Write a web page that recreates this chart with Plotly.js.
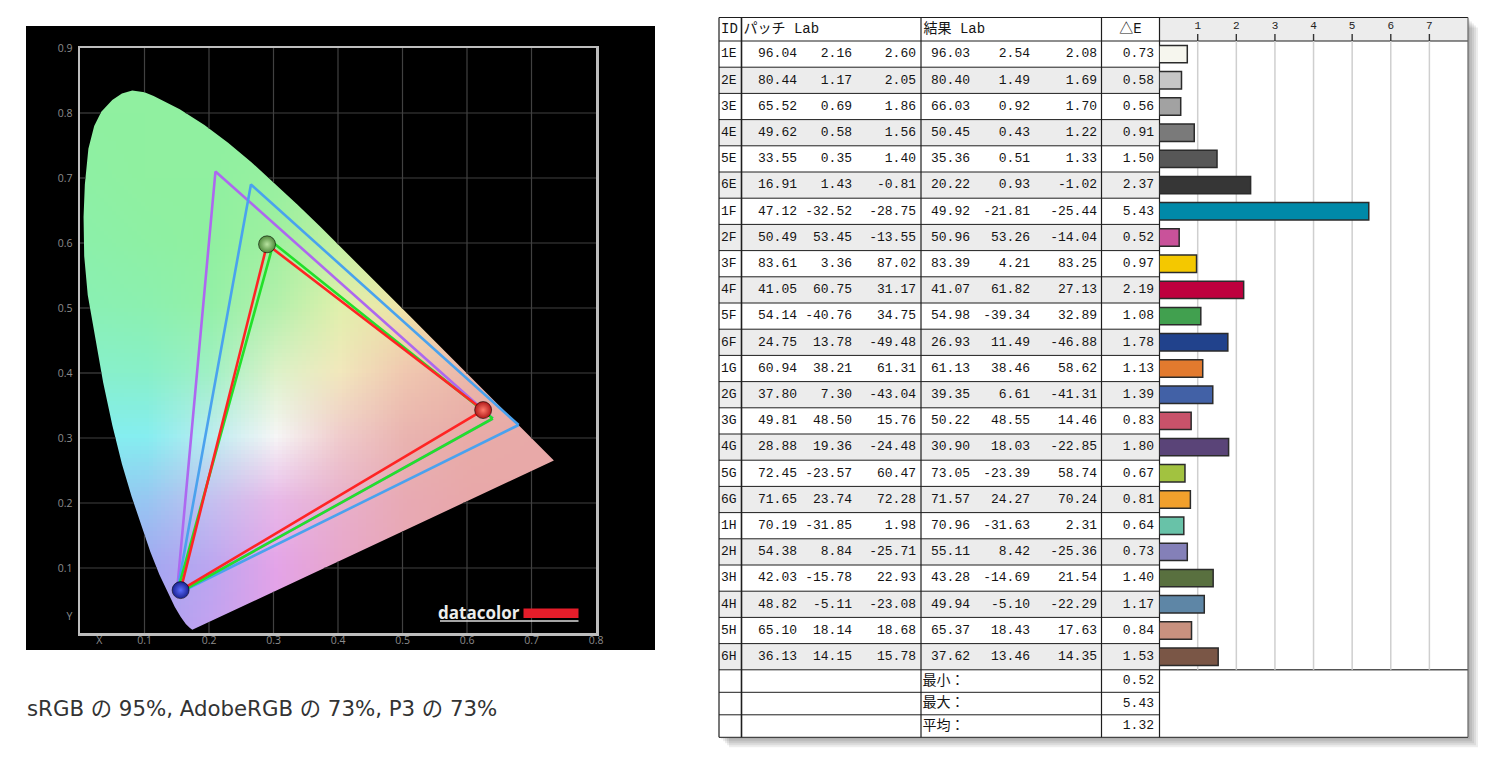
<!DOCTYPE html>
<html>
<head>
<meta charset="utf-8">
<title>色域と ΔE</title>
<script src="https://cdn.plot.ly/plotly-3.0.1.min.js"></script>
<style>
  html, body { margin: 0; padding: 0; background: #fff; }
  #chart { width: 1490px; height: 761px; }
</style>
</head>
<body>
<div id="chart"></div>
<script>
// ---------- chromaticity diagram ----------
// spectral locus: violet end, up the left side, over the top, down to the red end
const locusX = [0.1741, 0.1700, 0.1640, 0.1560, 0.1470, 0.1360, 0.1230, 0.1090, 0.0950, 0.0800,
                0.0650, 0.0500, 0.0360, 0.0230, 0.0120, 0.0065, 0.0055, 0.0075, 0.0130, 0.0220,
                0.0330, 0.0500, 0.0650, 0.0810, 0.1000, 0.1142, 0.1547, 0.1929, 0.2296, 0.2658,
                0.3016, 0.3373, 0.3731, 0.4087, 0.4441, 0.4788, 0.5125, 0.5448, 0.5752, 0.6029,
                0.6270, 0.6482, 0.6658, 0.6915, 0.7079, 0.7190, 0.7347];
const locusY = [0.0050, 0.0080, 0.0140, 0.0250, 0.0400, 0.0620, 0.0900, 0.1250, 0.1650, 0.2100,
                0.2600, 0.3200, 0.3850, 0.4550, 0.5200, 0.5800, 0.6400, 0.6900, 0.7450, 0.7800,
                0.8020, 0.8200, 0.8300, 0.8345, 0.8320, 0.8262, 0.8059, 0.7816, 0.7543, 0.7243,
                0.6923, 0.6589, 0.6245, 0.5896, 0.5547, 0.5202, 0.4866, 0.4544, 0.4242, 0.3965,
                0.3725, 0.3514, 0.3340, 0.3083, 0.2920, 0.2809, 0.2653];

// primaries R, G, B
const adobeX = [0.64, 0.21, 0.15],   adobeY = [0.33, 0.71, 0.06];
const p3X    = [0.68, 0.265, 0.15],  p3Y    = [0.32, 0.69, 0.06];
const srgbX  = [0.64, 0.30, 0.15],   srgbY  = [0.33, 0.60, 0.06];
const panelX = [0.625, 0.290, 0.156], panelY = [0.343, 0.598, 0.066];

const xTickVals = [0.03, 0.1, 0.2, 0.3, 0.4, 0.5, 0.6, 0.7, 0.8];
const xTickText = ['X', '0.1', '0.2', '0.3', '0.4', '0.5', '0.6', '0.7', '0.8'];
const yTickVals = [0.025, 0.1, 0.2, 0.3, 0.4, 0.5, 0.6, 0.7, 0.8, 0.9];
const yTickText = ['Y', '0.1', '0.2', '0.3', '0.4', '0.5', '0.6', '0.7', '0.8', '0.9'];
const gridXs = [0.1, 0.2, 0.3, 0.4, 0.5, 0.6, 0.7];
const gridYs = [0.1, 0.2, 0.3, 0.4, 0.5, 0.6, 0.7, 0.8];

const coverage = 'sRGB の 95%, AdobeRGB の 73%, P3 の 73%';

// ---------- ΔE table ----------
const patchIds = ['1E','2E','3E','4E','5E','6E','1F','2F','3F','4F','5F','6F',
                  '1G','2G','3G','4G','5G','6G','1H','2H','3H','4H','5H','6H'];
const patchL = [96.04, 80.44, 65.52, 49.62, 33.55, 16.91, 47.12, 50.49, 83.61, 41.05, 54.14, 24.75,
                60.94, 37.80, 49.81, 28.88, 72.45, 71.65, 70.19, 54.38, 42.03, 48.82, 65.10, 36.13];
const patchA = [2.16, 1.17, 0.69, 0.58, 0.35, 1.43, -32.52, 53.45, 3.36, 60.75, -40.76, 13.78,
                38.21, 7.30, 48.50, 19.36, -23.57, 23.74, -31.85, 8.84, -15.78, -5.11, 18.14, 14.15];
const patchB = [2.60, 2.05, 1.86, 1.56, 1.40, -0.81, -28.75, -13.55, 87.02, 31.17, 34.75, -49.48,
                61.31, -43.04, 15.76, -24.48, 60.47, 72.28, 1.98, -25.71, 22.93, -23.08, 18.68, 15.78];
const resultL = [96.03, 80.40, 66.03, 50.45, 35.36, 20.22, 49.92, 50.96, 83.39, 41.07, 54.98, 26.93,
                 61.13, 39.35, 50.22, 30.90, 73.05, 71.57, 70.96, 55.11, 43.28, 49.94, 65.37, 37.62];
const resultA = [2.54, 1.49, 0.92, 0.43, 0.51, 0.93, -21.81, 53.26, 4.21, 61.82, -39.34, 11.49,
                 38.46, 6.61, 48.55, 18.03, -23.39, 24.27, -31.63, 8.42, -14.69, -5.10, 18.43, 13.46];
const resultB = [2.08, 1.69, 1.70, 1.22, 1.33, -1.02, -25.44, -14.04, 83.25, 27.13, 32.89, -46.88,
                 58.62, -41.31, 14.46, -22.85, 58.74, 70.24, 2.31, -25.36, 21.54, -22.29, 17.63, 14.35];
const deltaE = [0.73, 0.58, 0.56, 0.91, 1.50, 2.37, 5.43, 0.52, 0.97, 2.19, 1.08, 1.78,
                1.13, 1.39, 0.83, 1.80, 0.67, 0.81, 0.64, 0.73, 1.40, 1.17, 0.84, 1.53];
const summaryLabels = ['最小：', '最大：', '平均：'];
const summaryValues = [0.52, 5.43, 1.32];
const headerTexts = ['ID', 'パッチ Lab', '結果 Lab', '△E'];
const scaleTicks = [1, 2, 3, 4, 5, 6, 7];

// ---------- styles ----------
const barColours = ['#f6f6ee','#c6c6c6','#a2a2a2','#7a7a7a','#575757','#363636',
                    '#0089a8','#c9529a','#f4c800','#be003e','#41a04f','#21428c',
                    '#e27a2e','#4261a6','#c8526a','#5a4478','#a2c240','#f2a02c',
                    '#68c2a8','#8480b8','#59703f','#5e86a6','#c8917f','#7a5646'];
// colour field behind the locus, rows from y=0.9 down to y=0, columns x=0..0.8
const G = '#90f0a0';
const fieldColours = [
  [G, G, G, G, G, G, G, G, G],
  [G, G, G, G, G, G, G, G, G],
  ['#8ef0a4', G, G, '#98f0a0', '#a8f0a0', '#b8f0a0', '#c8f0a0', '#d0f0a0', '#d0f0a0'],
  ['#8cf0aa', '#8ef0a4', G, '#a0f0a0', '#c4f0a4', '#def0a4', '#e8eca4', '#eae8a4', '#eae8a4'],
  ['#8af0b4', '#8cf0b0', '#94f0a8', '#b4f0ac', '#e0f0ac', '#f0e4a8', '#f0d4a8', '#eccca8', '#eccca8'],
  ['#88f0cc', '#88f0c8', '#a0f0c4', '#dcf2c8', '#f2e8bc', '#f0c8b0', '#ecb8aa', '#e8b0a8', '#e8b0a8'],
  ['#84eef0', '#86eef0', '#bcecf0', '#f6f6f6', '#f0cccc', '#eab4b0', '#e8aca8', '#e8aaa8', '#e8aaa8'],
  ['#8ccef2', '#98c6f2', '#c4c0f0', '#e8b8e8', '#e8b0cc', '#e8aab4', '#e8a8aa', '#e8a8a8', '#e8a8a8'],
  ['#9eaaf2', '#a2a8f2', '#bca6f0', '#e4a4e8', '#e8a6cc', '#e8a8b6', '#e8a8ac', '#e8a8a8', '#e8a8a8'],
  ['#a8a2f0', '#a8a2f0', '#c4a2f0', '#e2a2e8', '#e8a4d0', '#e8a6bc', '#e8a8b0', '#e8a8a8', '#e8a8a8']
];

const W = 1490, H = 761;
const px = v => v / W;          // page x pixel -> paper
const py = v => 1 - v / H;      // page y pixel -> paper
// table geometry, page pixels
const T = { left: 719, right: 1468, top: 17.5, head: 41, rowH: 26.2, sumH: 22.5,
            cols: [741.5, 921, 1101.5, 1159.5] };
const dataBottom = T.head + patchIds.length * T.rowH;
const tableBottom = dataBottom + summaryLabels.length * T.sumH;
const rowMid = patchIds.map((_, i) => T.head + T.rowH * (i + 0.5));
const sumMid = summaryLabels.map((_, j) => dataBottom + T.sumH * (j + 0.5));
const headMid = (T.top + T.head) / 2;

const tableFont = { family: 'Liberation Mono, "Noto Sans CJK JP", monospace', size: 13, color: '#141414' };
const labelFont = { family: 'Liberation Mono, "Noto Sans CJK JP", monospace', size: 14, color: '#141414' };
const fmt = v => v.toFixed(2);

// ---------- chart helpers ----------
function closed(a) { return a.concat([a[0]]); }

// tiny bitmap of the colour field; plotly's image trace scales it smoothly
function fieldSource() {
  const cv = document.createElement('canvas');
  const rows = fieldColours.length;
  cv.width = fieldColours[0].length;
  cv.height = rows;
  const c = cv.getContext('2d');
  fieldColours.forEach((row, r) => row.forEach((col, k) => {
    c.fillStyle = col; c.fillRect(k, rows - 1 - r, 1, 1);   // plotly flips source rows here
  }));
  return cv.toDataURL('image/png');
}

// parts of segment a->b lying outside the locus
function outside(ax, ay, bx, by) {
  const ts = [];
  const n = locusX.length;
  for (let i = 0; i < n; i++) {
    const j = (i + 1) % n;
    const cx = locusX[i], cy = locusY[i], dx = locusX[j], dy = locusY[j];
    const den = (bx - ax) * (dy - cy) - (by - ay) * (dx - cx);
    if (Math.abs(den) < 1e-12) continue;
    const t = ((cx - ax) * (dy - cy) - (cy - ay) * (dx - cx)) / den;
    const u = ((cx - ax) * (by - ay) - (cy - ay) * (bx - ax)) / den;
    if (u >= 0 && u <= 1) ts.push(t);
  }
  if (ts.length < 2) return [[ax, ay, bx, by]];
  const t0 = Math.max(0, Math.min(...ts)), t1 = Math.min(1, Math.max(...ts));
  const out = [];
  if (t0 > 0) out.push([ax, ay, ax + t0 * (bx - ax), ay + t0 * (by - ay)]);
  if (t1 < 1) out.push([ax + t1 * (bx - ax), ay + t1 * (by - ay), bx, by]);
  return out;
}

const xr = [0, 0.8], yr = [0, 0.9];
const gx = [], gy = [];
gridXs.forEach(v => outside(v, yr[0], v, yr[1]).forEach(s => { gx.push(s[0], s[2], null); gy.push(s[1], s[3], null); }));
gridYs.forEach(v => outside(xr[0], v, xr[1], v).forEach(s => { gx.push(s[0], s[2], null); gy.push(s[1], s[3], null); }));

function gamut(xs, ys, colour) {
  return { type: 'scatter', mode: 'lines', x: closed(xs), y: closed(ys),
           line: { color: colour, width: 2.6 }, hoverinfo: 'skip' };
}

const traces = [
  { type: 'image', source: fieldSource(), x0: 0, dx: 0.1, y0: 0.9, dy: -0.1,
    zsmooth: 'fast', hoverinfo: 'skip' },
  // black mask: frame with the locus cut out
  { type: 'scatter', mode: 'lines', fill: 'toself', fillcolor: '#000', line: { width: 0 },
    x: [xr[0], xr[1], xr[1], xr[0], xr[0], null].concat(closed(locusX)),
    y: [yr[0], yr[0], yr[1], yr[1], yr[0], null].concat(closed(locusY)),
    hoverinfo: 'skip' },
  { type: 'scatter', mode: 'lines', x: gx, y: gy, line: { color: '#414141', width: 1.2 }, hoverinfo: 'skip' },
  gamut(adobeX, adobeY, '#ad68f0'),
  gamut(p3X, p3Y, '#4aa2ee'),
  gamut(srgbX, srgbY, '#22e02a'),
  gamut(panelX, panelY, '#ff2424'),
  { type: 'scatter', mode: 'markers', x: panelX, y: panelY, hoverinfo: 'skip',
    marker: { size: 17, color: ['#b01818', '#4f8a3a', '#1a2290'],
              gradient: { type: 'radial', color: ['#ff7a6a', '#b8e4a0', '#5a6cff'] },
              line: { color: 'rgba(0,0,0,0.55)', width: 1 } } },

  // ---- table text ----
  { type: 'scatter', mode: 'text', xaxis: 'x2', yaxis: 'y2', hoverinfo: 'skip',
    x: [721, 743.5, 923.5, 1130.5], y: headerTexts.map(() => headMid), text: headerTexts,
    textposition: ['middle right', 'middle right', 'middle right', 'middle center'],
    textfont: labelFont, marker: { size: 1 } },
  { type: 'scatter', mode: 'text', xaxis: 'x2', yaxis: 'y2', hoverinfo: 'skip',
    x: patchIds.map(() => 721), y: rowMid, text: patchIds, textposition: 'middle right',
    textfont: tableFont, marker: { size: 1 } }
];

const numberCols = [[patchL, 797], [patchA, 852], [patchB, 916],
                    [resultL, 970], [resultA, 1030], [resultB, 1097], [deltaE, 1154]];
numberCols.forEach(([vals, right]) => traces.push({
  type: 'scatter', mode: 'text', xaxis: 'x2', yaxis: 'y2', hoverinfo: 'skip',
  x: vals.map(() => right), y: rowMid, text: vals.map(fmt), textposition: 'middle left',
  textfont: tableFont, marker: { size: 1 }
}));
traces.push({
  type: 'scatter', mode: 'text', xaxis: 'x2', yaxis: 'y2', hoverinfo: 'skip',
  x: summaryLabels.map(() => 922.5), y: sumMid, text: summaryLabels, textposition: 'middle right',
  textfont: labelFont, marker: { size: 1 }
});
traces.push({
  type: 'scatter', mode: 'text', xaxis: 'x2', yaxis: 'y2', hoverinfo: 'skip',
  x: summaryValues.map(() => 1154), y: sumMid, text: summaryValues.map(fmt), textposition: 'middle left',
  textfont: tableFont, marker: { size: 1 }
});
// scale numbers over the bar column
traces.push({
  type: 'scatter', mode: 'text', xaxis: 'x3', yaxis: 'y2', hoverinfo: 'skip',
  x: scaleTicks, y: scaleTicks.map(() => 26.5), text: scaleTicks.map(String), textposition: 'middle center',
  textfont: { family: 'Liberation Mono, monospace', size: 11, color: '#222' }, marker: { size: 1 }
});
// ΔE bars
traces.push({
  type: 'bar', orientation: 'h', xaxis: 'x3', yaxis: 'y2', hoverinfo: 'skip',
  x: deltaE, y: rowMid, base: 0, width: 17.4,
  marker: { color: barColours, line: { color: '#2b2b2b', width: 1.5 } }
});

// ---------- shapes ----------
const shapes = [];
// black panel behind the diagram
shapes.push({ type: 'rect', xref: 'paper', yref: 'paper', layer: 'below',
  x0: px(26), x1: px(655), y0: py(650), y1: py(26), fillcolor: '#000', line: { width: 0 } });
// datacolor mark
shapes.push({ type: 'rect', xref: 'paper', yref: 'paper', layer: 'above',
  x0: px(523.5), x1: px(578.5), y0: py(618), y1: py(608.5), fillcolor: '#e51d2a', line: { width: 0 } });
shapes.push({ type: 'line', xref: 'paper', yref: 'paper', layer: 'above',
  x0: px(440), x1: px(578.5), y0: py(621), y1: py(621), line: { color: '#dcdcdc', width: 1.5 } });

function tbl(s) { return Object.assign({ xref: 'x2', yref: 'y2', layer: 'below' }, s); }
function hline(y, x0, x1, colour, w) {
  shapes.push(tbl({ type: 'line', x0: x0, x1: x1, y0: y, y1: y, line: { color: colour, width: w } }));
}
function vline(x, y0, y1, colour, w) {
  shapes.push(tbl({ type: 'line', x0: x, x1: x, y0: y0, y1: y1, line: { color: colour, width: w } }));
}
// drop shadow
for (let k = 1; k <= 5; k++) {
  shapes.push(tbl({ type: 'rect', x0: T.left + 2 * k, x1: T.right + 2 * k, y0: T.top + 2 * k, y1: tableBottom + 2 * k,
    fillcolor: 'rgba(0,0,0,0.07)', line: { width: 0 } }));
}
shapes.push(tbl({ type: 'rect', x0: T.left, x1: T.right, y0: T.top, y1: tableBottom, fillcolor: '#fff', line: { width: 0 } }));
shapes.push(tbl({ type: 'rect', x0: T.cols[3], x1: T.right, y0: T.top, y1: T.head, fillcolor: '#ececec', line: { width: 0 } }));
rowMid.forEach((m, i) => {
  if (i % 2 === 1) shapes.push(tbl({ type: 'rect', x0: T.left, x1: T.cols[3], y0: m - T.rowH / 2, y1: m + T.rowH / 2,
    fillcolor: '#ececec', line: { width: 0 } }));
});
rowMid.forEach((m, i) => { if (i > 0) hline(m - T.rowH / 2, T.left, T.cols[3], '#1e1e1e', 1); });
sumMid.forEach(m => hline(m - T.sumH / 2, T.left, T.cols[3], '#1e1e1e', 1));
hline(T.head, T.left, T.right, '#1e1e1e', 1.2);
hline(dataBottom, T.cols[3], T.right, '#555', 1.5);
hline(T.top, T.left, T.right, '#1e1e1e', 1.2);
hline(tableBottom, T.left, T.right, '#444', 1.2);
vline(T.left, T.top, tableBottom, '#1e1e1e', 1.2);
vline(T.right, T.top, tableBottom, '#666', 1.2);
T.cols.forEach((c, k) => vline(c, T.top, tableBottom, '#1e1e1e', k === 0 ? 1.6 : 1.2));
// scale ticks and bar grid
scaleTicks.forEach(v => {
  shapes.push({ type: 'line', xref: 'x3', yref: 'y2', layer: 'below', x0: v, x1: v, y0: 34, y1: T.head,
    line: { color: '#333', width: 1.4 } });
  shapes.push({ type: 'line', xref: 'x3', yref: 'y2', layer: 'below', x0: v, x1: v, y0: T.head, y1: dataBottom,
    line: { color: '#cfcfcf', width: 1.5 } });
});

const axisFont = { family: 'Open Sans, DejaVu Sans, sans-serif', size: 10.5, color: '#8c8c8c' };

const layout = {
  width: W, height: H, margin: { l: 0, r: 0, t: 0, b: 0 },
  paper_bgcolor: '#fff', plot_bgcolor: 'rgba(0,0,0,0)', showlegend: false,
  xaxis: { domain: [px(80), px(596)], range: xr, tickmode: 'array', tickvals: xTickVals, ticktext: xTickText,
           showgrid: false, zeroline: false, showline: true, mirror: true, linecolor: '#bdbdbd', linewidth: 2.5,
           ticks: '', tickfont: axisFont, ticklabelstandoff: -4, fixedrange: true },
  yaxis: { domain: [py(633), py(48)], range: yr, tickmode: 'array', tickvals: yTickVals, ticktext: yTickText,
           showgrid: false, zeroline: false, showline: true, mirror: true, linecolor: '#bdbdbd', linewidth: 2.5,
           ticks: '', tickfont: axisFont, ticklabelstandoff: 3, scaleanchor: false, fixedrange: true },
  xaxis2: { domain: [px(700), 1], range: [700, W], anchor: 'y2', visible: false, fixedrange: true },
  yaxis2: { domain: [0, 1], range: [H, 0], anchor: 'x2', visible: false, fixedrange: true },
  xaxis3: { domain: [px(1159.1), px(1468)], range: [0, 8], anchor: 'y2', visible: false, fixedrange: true },
  shapes: shapes,
  annotations: [
    { xref: 'paper', yref: 'paper', x: px(522), y: py(612), xanchor: 'right', yanchor: 'middle',
      text: '<b>datacolor</b>', showarrow: false,
      font: { family: 'Open Sans, DejaVu Sans, sans-serif', size: 17, color: '#ececec' } },
    { xref: 'paper', yref: 'paper', x: px(25), y: py(708), xanchor: 'left', yanchor: 'middle',
      text: coverage, showarrow: false,
      font: { family: '"DejaVu Sans", "Noto Sans CJK JP", sans-serif', size: 21.3, color: '#333' } }
  ]
};

Plotly.newPlot('chart', traces, layout, { displayModeBar: false, staticPlot: true });
</script>
</body>
</html>
